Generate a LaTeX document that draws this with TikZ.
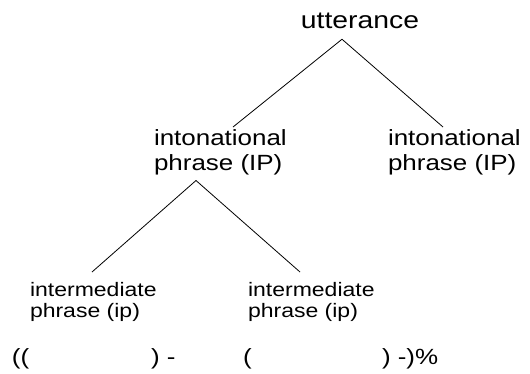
\documentclass[tikz,border=0pt]{standalone}
\usepackage{fontspec}
\setmainfont[FakeStretch=1.18]{Liberation Sans}
\usetikzlibrary{calc}

\begin{document}
\begin{tikzpicture}[x=1pt,y=-1pt,
    lvl/.style={inner sep=0pt, outer sep=0pt, align=left},
    utt/.style={lvl, font=\fontsize{24}{28}\selectfont},
    IPstyle/.style={lvl, anchor=north west, font=\fontsize{22}{25}\selectfont},
    ipstyle/.style={lvl, anchor=north west, font=\fontsize{19.5}{21}\selectfont},
    brk/.style={lvl, anchor=base west, font=\fontsize{22}{24}\selectfont},
    branch/.style={line width=0.8pt}]
    \useasboundingbox (0,0) rectangle (530,373);

    \node[utt, anchor=base] (utt) at (360,28) {utterance};
    \node[IPstyle] (IPa) at (154,130) {intonational\\phrase (IP)};
    \node[IPstyle] (IPb) at (388,130) {intonational\\phrase (IP)};
    \node[ipstyle] (ipa) at (30,282) {intermediate\\phrase (ip)};
    \node[ipstyle] (ipb) at (248,282) {intermediate\\phrase (ip)};

    % bracketing
    \node[brk] (bra) at (12,364) {((};
    \node[brk] (brb) at (151,364) {) -};
    \node[brk] (brc) at (243,364) {(};
    \node[brk] (brd) at (382,364) {) -)\%};

    \draw[branch] ($(utt.south)+(-18,11)$) -- ($(IPa.north west)+(79,-3)$);
    \draw[branch] ($(utt.south)+(-18,11)$) -- ($(IPb.north west)+(55,-3)$);
    \draw[branch] ($(IPa.south west)+(42,5)$) -- ($(ipa.north west)+(62,-10)$);
    \draw[branch] ($(IPa.south west)+(42,5)$) -- ($(ipb.north west)+(52,-10)$);
\end{tikzpicture}
\end{document}
